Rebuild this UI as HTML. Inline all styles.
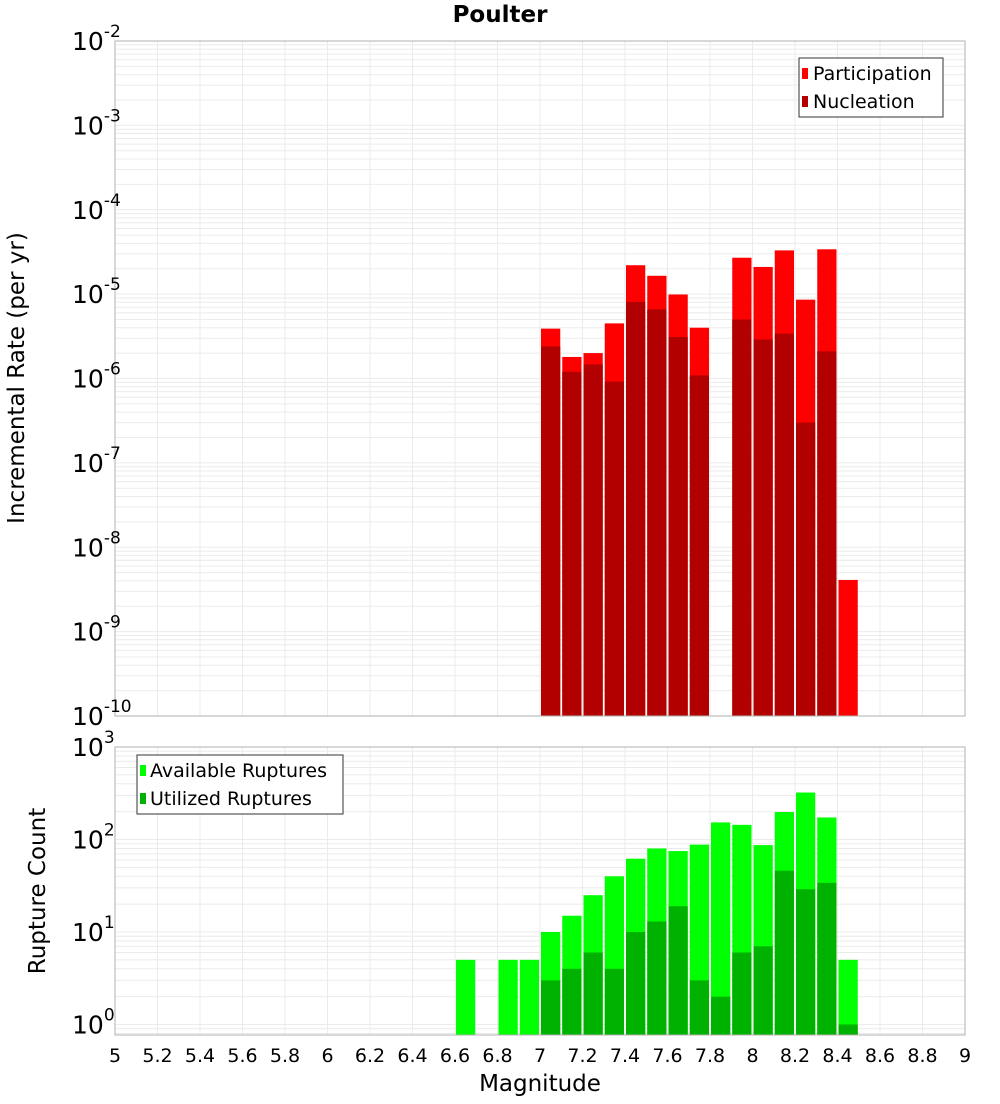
<!DOCTYPE html>
<html><head><meta charset="utf-8"><style>
body{margin:0;background:#fff;font-family:"DejaVu Sans","Liberation Sans",sans-serif}
svg text{font-family:"DejaVu Sans","Liberation Sans",sans-serif}
</style></head><body>
<svg id="c" width="1000" height="1100" xmlns="http://www.w3.org/2000/svg">
<text x="500" y="22" text-anchor="middle" font-size="23" font-weight="bold">Poulter</text>
<g id="g1"></g><g id="g2"></g>
</svg>
<script>
const mags=[6.65,6.75,6.85,6.95,7.05,7.15,7.25,7.35,7.45,7.55,7.65,7.75,7.85,7.95,8.05,8.15,8.25,8.35,8.45];
const participation=[0,0,0,0,3.9e-6,1.8e-6,2.0e-6,4.5e-6,2.2e-5,1.65e-5,9.9e-6,4.0e-6,0,2.7e-5,2.1e-5,3.3e-5,8.6e-6,3.4e-5,4.1e-9];
const nucleation=[0,0,0,0,2.4e-6,1.2e-6,1.47e-6,9.2e-7,8.1e-6,6.6e-6,3.1e-6,1.09e-6,0,5.0e-6,2.9e-6,3.4e-6,3.0e-7,2.1e-6,0];
const available=[5,0,5,5,10,15,25,40,62,80,75,88,153,144,87,198,322,173,5];
const utilized=[0,0,0,0,3,4,6,4,10,13,19,3,2,6,7,46,29,34,1];
const xTicks=[5,5.2,5.4,5.6,5.8,6,6.2,6.4,6.6,6.8,7,7.2,7.4,7.6,7.8,8,8.2,8.4,8.6,8.8,9];
const topExp=[-2,-3,-4,-5,-6,-7,-8,-9,-10];
const botExp=[3,2,1,0];
const NS="http://www.w3.org/2000/svg";
const X0=115,X1=965;
const xs=m=>X0+(m-5)/4*(X1-X0);
function mk(p,t,a){const e=document.createElementNS(NS,t);for(const k in a)e.setAttribute(k,a[k]);p.appendChild(e);return e;}
function panel(g,top,bot,lmax,lmin,name){
  const ys=v=>top+(lmax-Math.log10(v))/(lmax-lmin)*(bot-top);
  const bg=mk(g,'rect',{x:X0,y:top,width:X1-X0,height:bot-top,fill:'#fff'});
  
  
  for(let e=Math.floor(lmin);e<Math.ceil(lmax);e++){for(let k=1;k<10;k++){const v=k*Math.pow(10,e);const l=Math.log10(v);if(l<lmin||l>lmax)continue;const y=ys(v);const gl=mk(g,'line',{x1:X0,x2:X1,y1:y,y2:y,stroke:'#ebebeb','stroke-width':1});
    
    }}
  xTicks.forEach(t=>{const gl=mk(g,'line',{x1:xs(t),x2:xs(t),y1:top,y2:bot,stroke:'#ebebeb','stroke-width':1});
    
    });
  return ys;
}
function ylabels(g,ys,exps){exps.forEach(e=>{const y=ys(Math.pow(10,e));const t=mk(g,'text',{x:72,y:y+9,'font-size':25});t.textContent='10';
  
  
  const s=mk(t,'tspan',{dy:-13,'font-size':17});s.textContent=String(e);});}
function bars(g,ys,vals,color,bot,name){vals.forEach((v,i)=>{if(!(v>0))return;const y=ys(v);const r=mk(g,'rect',{x:xs(mags[i]-0.05)+1,y:y,width:21.25-2,height:bot-y,fill:color});
  
  });}
const g1=document.getElementById('g1'),g2=document.getElementById('g2');
const T1=41,B1=716;
const ys1=panel(g1,T1,B1,-2,-10,'rate');
bars(g1,ys1,participation,'#ff0000',B1,'participation');
bars(g1,ys1,nucleation,'#b20000',B1,'nucleation');
let f=mk(g1,'rect',{x:X0,y:T1,width:X1-X0,height:B1-T1,fill:'none',stroke:'#b0b0b0'});


ylabels(g1,ys1,topExp);
let yt=mk(g1,'text',{x:0,y:0,'font-size':23,'text-anchor':'middle',transform:'translate(24,378) rotate(-90)'});yt.textContent='Incremental Rate (per yr)';


let lg=mk(g1,'g',{});


mk(lg,'rect',{x:799,y:58,width:144,height:59,fill:'#fff',stroke:'#333'});
mk(lg,'rect',{x:802,y:68,width:6,height:11,fill:'#ff0000'});
mk(lg,'rect',{x:802,y:96,width:6,height:11,fill:'#b20000'});
let t=mk(lg,'text',{x:813,y:80,'font-size':19});t.textContent='Participation';


t=mk(lg,'text',{x:813,y:108,'font-size':19});t.textContent='Nucleation';


const T2=747,B2=1035;
const bmin=3-(B2-T2)/92.5;
const ys2=panel(g2,T2,B2,3,bmin,'count');
bars(g2,ys2,available,'#00ff00',B2,'available');
bars(g2,ys2,utilized,'#00b200',B2,'utilized');
f=mk(g2,'rect',{x:X0,y:T2,width:X1-X0,height:B2-T2,fill:'none',stroke:'#b0b0b0'});


ylabels(g2,ys2,botExp);
yt=mk(g2,'text',{x:0,y:0,'font-size':23,'text-anchor':'middle',transform:'translate(45,891) rotate(-90)'});yt.textContent='Rupture Count';


lg=mk(g2,'g',{});


mk(lg,'rect',{x:137,y:755,width:206,height:59,fill:'#fff',stroke:'#333'});
mk(lg,'rect',{x:140,y:765,width:6,height:11,fill:'#00ff00'});
mk(lg,'rect',{x:140,y:793,width:6,height:11,fill:'#00b200'});
t=mk(lg,'text',{x:150,y:777,'font-size':19});t.textContent='Available Ruptures';


t=mk(lg,'text',{x:150,y:805,'font-size':19});t.textContent='Utilized Ruptures';


xTicks.forEach(v=>{const tx=mk(g2,'text',{x:xs(v),y:1062,'font-size':19,'text-anchor':'middle'});tx.textContent=String(v);
  
  });
const xt=mk(g2,'text',{x:540,y:1091,'font-size':23,'text-anchor':'middle'});xt.textContent='Magnitude';


</script>
</body></html>
